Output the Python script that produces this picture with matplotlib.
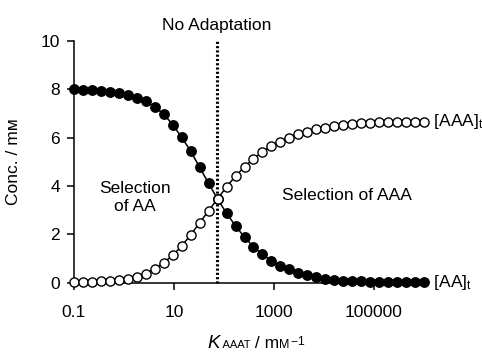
import numpy as np
import matplotlib
matplotlib.use("Agg")
import matplotlib.pyplot as plt
from matplotlib.offsetbox import TextArea, HPacker, AnchoredOffsetbox

plt.rcParams['font.family'] = ['Liberation Sans', 'DejaVu Sans']
plt.rcParams['mathtext.fontset'] = 'custom'
plt.rcParams['mathtext.rm'] = 'Liberation Sans'
plt.rcParams['mathtext.it'] = 'Liberation Sans:italic'

# ---- data ----
k_aaat = np.logspace(-1, 6, 40)
aa_t = [8.00, 7.99, 7.97, 7.94, 7.89, 7.83, 7.76, 7.66, 7.50, 7.28,
        6.97, 6.54, 6.01, 5.45, 4.77, 4.11, 3.46, 2.87, 2.35, 1.88,
        1.49, 1.17, 0.91, 0.71, 0.55, 0.42, 0.32, 0.23, 0.16, 0.12,
        0.09, 0.06, 0.05, 0.04, 0.03, 0.02, 0.02, 0.01, 0.01, 0.01]
aaa_t = [0.01, 0.02, 0.03, 0.05, 0.07, 0.10, 0.15, 0.23, 0.37, 0.58,
         0.83, 1.13, 1.52, 1.98, 2.48, 2.98, 3.47, 3.97, 4.41, 4.80,
         5.13, 5.42, 5.65, 5.83, 6.00, 6.14, 6.24, 6.34, 6.41, 6.48,
         6.52, 6.56, 6.59, 6.61, 6.63, 6.64, 6.65, 6.66, 6.66, 6.66]
no_adapt_k = 72
x_ticks = [0.1, 10, 1000, 100000]
x_ticklabels = ["0.1", "10", "1000", "100000"]
y_ticks = [0, 2, 4, 6, 8, 10]

fig = plt.figure(figsize=(4.82, 3.54), dpi=100)
ax = fig.add_axes([74/482, 1-282.7/354, 350/482, (282.7-41)/354])

ax.plot(k_aaat, aa_t, '-', color='black', lw=1.1, marker='o', ms=6.8,
        mfc='black', mec='black', clip_on=False, zorder=3)
ax.plot(k_aaat, aaa_t, '-', color='black', lw=1.1, marker='o', ms=6.6,
        mfc='white', mec='black', mew=1.0, clip_on=False, zorder=4)
ax.plot([no_adapt_k, no_adapt_k], [0, 10], color='black', lw=2.2,
        linestyle=(0, (0.7, 0.7)), zorder=2, clip_on=False)

ax.set_xscale('log')
ax.set_xlim(0.1, 1e6)
ax.set_ylim(0, 10)
ax.set_xticks(x_ticks)
ax.set_xticklabels(x_ticklabels)
ax.xaxis.set_minor_locator(matplotlib.ticker.NullLocator())
ax.set_yticks(y_ticks)
for s in ['top', 'right']:
    ax.spines[s].set_visible(False)
for s in ['left', 'bottom']:
    ax.spines[s].set_linewidth(1.1)
ax.tick_params(axis='both', direction='out', length=5, width=1.1,
               labelsize=12.5, colors='black')
ax.tick_params(axis='x', pad=11)
ax.tick_params(axis='y', pad=5)

ax.set_ylabel("Conc. / mᴍ", fontsize=12.5)
ax.yaxis.set_label_coords(-53/350, 0.5)

ax.text(no_adapt_k, 1.0 + 8/241.7, "No Adaptation", transform=ax.get_xaxis_transform(),
        ha='center', va='bottom', fontsize=12.5)

fig.text(135/482, 1-198/354, "Selection\nof AA", ha='center', va='center',
         fontsize=12.5, linespacing=1.25)
fig.text(346.7/482, 1-196/354, "Selection of AAA", ha='center', va='center',
         fontsize=12.5)
ax.text(1.0, aaa_t[-1], r"  [AAA]$_\mathregular{t}$", transform=ax.get_yaxis_transform(),
        ha='left', va='center', fontsize=12.5)
ax.text(1.0, aa_t[-1], r"  [AA]$_\mathregular{t}$", transform=ax.get_yaxis_transform(),
        ha='left', va='center', fontsize=12.5)

parts = [
    TextArea("K", textprops=dict(fontsize=13.5, style='italic')),
    TextArea(" AAAT", textprops=dict(fontsize=8)),
    TextArea(" / m", textprops=dict(fontsize=12.5)),
    TextArea("M", textprops=dict(fontsize=9)),
    TextArea(r"$^{-1}$", textprops=dict(fontsize=12.5)),
]
box = HPacker(children=parts, align='baseline', pad=0, sep=0)
anchored = AnchoredOffsetbox(loc='center', child=box, frameon=False, pad=0,
                             borderpad=0, bbox_to_anchor=(256/482, 1-344/354),
                             bbox_transform=fig.transFigure)
fig.add_artist(anchored)

fig.savefig("out.png", dpi=100)
